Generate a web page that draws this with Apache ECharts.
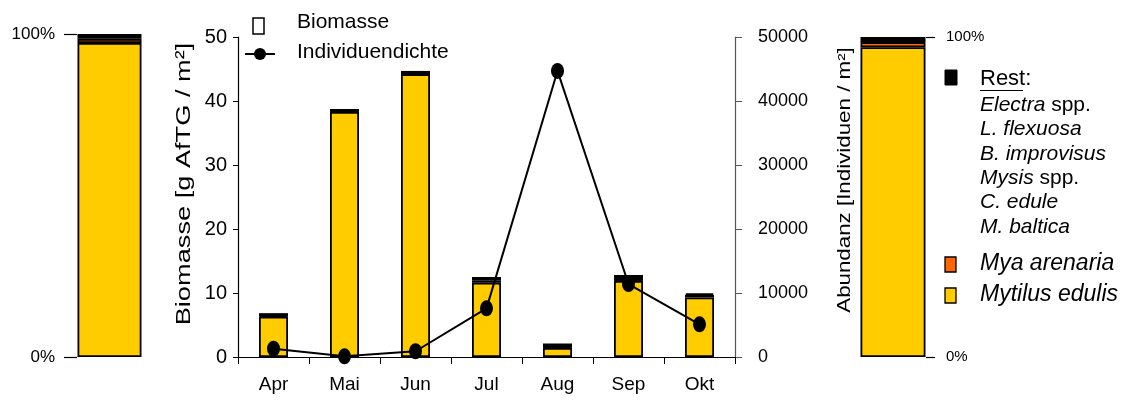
<!DOCTYPE html>
<html><head><meta charset="utf-8">
<script src="https://cdn.jsdelivr.net/npm/echarts@6/dist/echarts.min.js"></script>
<style>html,body{margin:0;padding:0;background:#fff}#c{width:1132px;height:401px}</style>
</head><body><div id="c"></div>
<script>
const months = ['Apr','Mai','Jun','Jul','Aug','Sep','Okt'];
const mytilusBio = [6.3, 38.3, 44.2, 11.6, 1.4, 11.9, 9.3];
const myaBio = [0.1, 0.05, 0.05, 0.3, 0.1, 0.1, 0.4];
const restBio = [0.45, 0.4, 0.45, 0.6, 0.6, 0.8, 0.25];
const density = [1300, 100, 900, 7600, 44700, 11400, 5100];
const leftShare = { mytilus: 97.2, mya: 1.3, rest: 1.5 };
const rightShare = { mytilus: 96.8, mya: 1.6, rest: 1.6 };
const restTaxa = [['Electra',' spp.'],['L. flexuosa',''],['B. improvisus',''],['Mysis',' spp.'],['C. edule',''],['M. baltica','']];

const FONT = 'Liberation Sans';
const YEL = '#FFCC00', ORA = '#FF6600', BLK = '#000000';
const chart = echarts.init(document.getElementById('c'), null, {renderer:'canvas'});
const barStyle = c => ({color:c, borderColor:'#000', borderWidth:1.8});

const pctAxis = (gi, pos, lblSize) => ({
  gridIndex: gi, type:'value', min:0, max:100, interval:100, position:pos,
  axisLine:{show:false}, splitLine:{show:false},
  axisTick:{show:true, length: pos==='left'?13:9, lineStyle:{color:'#000', width:1.2}},
  axisLabel:{formatter:'{value}%', fontFamily:FONT, fontSize:lblSize, color:'#000', margin: pos==='left'?22:20}
});

const graphics = [
  {type:'rect', shape:{x:253,y:18,width:11,height:16}, style:{fill:'#fff', stroke:'#000', lineWidth:1.5}},
  {type:'text', x:297, y:22, style:{text:'Biomasse', font:'21px '+FONT, fill:'#000', verticalAlign:'middle'}},
  {type:'line', shape:{x1:245,y1:54,x2:275,y2:54}, style:{stroke:'#000', lineWidth:2}},
  {type:'circle', shape:{cx:260,cy:54,r:6}, style:{fill:'#000'}},
  {type:'text', x:297, y:52, style:{text:'Individuendichte', font:'21px '+FONT, fill:'#000', verticalAlign:'middle'}},
  {type:'text', x:184, y:184, rotation:Math.PI/2, scaleX:1.36,
   style:{text:'Biomasse [g AfTG / m²]', font:'20px '+FONT, fill:'#000', align:'center', verticalAlign:'middle'}},
  {type:'text', x:845, y:180, rotation:Math.PI/2, scaleX:1.24,
   style:{text:'Abundanz [Individuen / m²]', font:'18px '+FONT, fill:'#000', align:'center', verticalAlign:'middle'}},
  {type:'rect', shape:{x:945,y:70,width:12,height:15}, style:{fill:'#000', stroke:'#000', lineWidth:1}},
  {type:'text', x:980, y:79, style:{text:'Rest:', font:'22px '+FONT, fill:'#000', verticalAlign:'middle'}},
  {type:'line', shape:{x1:980,y1:90.5,x2:1023,y2:90.5}, style:{stroke:'#000', lineWidth:1.2}},
  {type:'rect', shape:{x:945,y:257,width:11,height:15}, style:{fill:ORA, stroke:'#000', lineWidth:1.3}},
  {type:'text', x:980, y:264, style:{text:'Mya arenaria', font:'italic 23px '+FONT, fill:'#000', verticalAlign:'middle'}},
  {type:'rect', shape:{x:945,y:288,width:11,height:15}, style:{fill:YEL, stroke:'#000', lineWidth:1.3}},
  {type:'text', x:980, y:295, style:{text:'Mytilus edulis', font:'italic 23px '+FONT, fill:'#000', verticalAlign:'middle'}}
];
restTaxa.forEach((t,i)=>{
  graphics.push({type:'text', x:980, y:105+i*24.4, style:{
    text:'{i|'+t[0]+'}'+(t[1]?'{n|'+t[1]+'}':''), verticalAlign:'middle',
    rich:{i:{fontStyle:'italic', fontFamily:FONT, fontSize:21, fill:'#000'}, n:{fontFamily:FONT, fontSize:21, fill:'#000'}}
  }});
});

chart.setOption({
  animation:false,
  textStyle:{fontFamily:FONT, color:'#000'},
  grid:[
    {left:77, right:990, top:34, bottom:44},
    {left:238, right:397, top:37, bottom:44},
    {left:860, right:206, top:37, bottom:44}
  ],
  xAxis:[
    {gridIndex:0, type:'category', data:['all'], show:false},
    {gridIndex:1, type:'category', data:months, axisLine:{lineStyle:{color:'#000', width:1.2}},
     axisTick:{show:true, length:7, lineStyle:{color:'#000'}}, axisLabel:{fontFamily:FONT, fontSize:19, color:'#000', margin:18}},
    {gridIndex:2, type:'category', data:['all'], show:false}
  ],
  yAxis:[
    pctAxis(0,'left',17),
    {gridIndex:1, type:'value', min:0, max:50, interval:10, position:'left',
     axisLine:{show:true, lineStyle:{color:'#000', width:1.2}}, axisTick:{show:true, length:5, lineStyle:{color:'#000'}},
     splitLine:{show:false}, axisLabel:{fontFamily:FONT, fontSize:20, color:'#000', margin:11}},
    {gridIndex:1, type:'value', min:0, max:50000, interval:10000, position:'right',
     axisLine:{show:true, lineStyle:{color:'#555', width:1.2}}, axisTick:{show:true, length:7, lineStyle:{color:'#555'}},
     splitLine:{show:false}, axisLabel:{fontFamily:FONT, fontSize:18, color:'#000', margin:23, formatter: v => String(v)}},
    pctAxis(2,'right',15)
  ],
  series:[
    {type:'bar', xAxisIndex:0, yAxisIndex:0, stack:'l', barWidth:64, data:[leftShare.mytilus], itemStyle:barStyle(YEL)},
    {type:'bar', xAxisIndex:0, yAxisIndex:0, stack:'l', barWidth:64, data:[leftShare.mya], itemStyle:barStyle(ORA)},
    {type:'bar', xAxisIndex:0, yAxisIndex:0, stack:'l', barWidth:64, data:[leftShare.rest], itemStyle:barStyle(BLK)},
    {type:'bar', xAxisIndex:1, yAxisIndex:1, stack:'m', barWidth:29, data:mytilusBio, itemStyle:barStyle(YEL)},
    {type:'bar', xAxisIndex:1, yAxisIndex:1, stack:'m', barWidth:29, data:myaBio, itemStyle:barStyle(ORA)},
    {type:'bar', xAxisIndex:1, yAxisIndex:1, stack:'m', barWidth:29, data:restBio, itemStyle:barStyle(BLK)},
    {type:'line', xAxisIndex:1, yAxisIndex:2, data:density, symbol:'circle', symbolSize:[13,16],
     lineStyle:{color:'#000', width:2}, itemStyle:{color:'#000'}, z:10},
    {type:'bar', xAxisIndex:2, yAxisIndex:3, stack:'r', barWidth:65, data:[rightShare.mytilus], itemStyle:barStyle(YEL)},
    {type:'bar', xAxisIndex:2, yAxisIndex:3, stack:'r', barWidth:65, data:[rightShare.mya], itemStyle:barStyle(ORA)},
    {type:'bar', xAxisIndex:2, yAxisIndex:3, stack:'r', barWidth:65, data:[rightShare.rest], itemStyle:barStyle(BLK)}
  ],
  graphic: graphics
});
</script></body></html>
